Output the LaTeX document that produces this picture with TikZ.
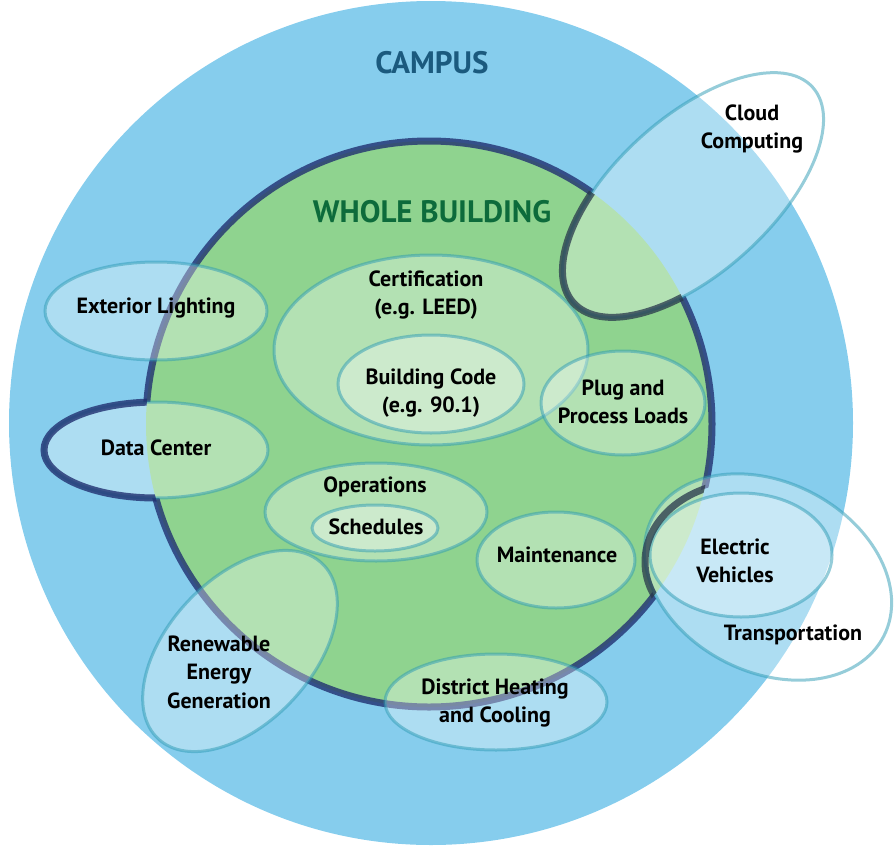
\documentclass[tikz,border=0pt]{standalone}
\usepackage{fontspec}
\setmainfont{PT Sans}
\usetikzlibrary{positioning}

\definecolor{campusblue}{RGB}{134,205,237}
\definecolor{buildgreen}{RGB}{143,211,143}
\definecolor{rimdark}{RGB}{32,48,112}
\definecolor{cutdark}{RGB}{40,55,75}
\definecolor{zoneline}{RGB}{45,155,180}
\definecolor{campustext}{RGB}{27,90,126}
\definecolor{buildtext}{RGB}{13,107,59}

\tikzstyle{zone} = [fill=white, fill opacity=0.33, draw=zoneline, draw opacity=0.5, line width=3]
\tikzstyle{rim} = [draw=rimdark, draw opacity=0.8, line width=7]
\tikzstyle{cutrim} = [draw=cutdark, draw opacity=0.75, line width=7]
\tikzstyle{lbl} = [font=\fontsize{22}{28.5}\selectfont\bfseries, align=center, text=black, inner sep=0]
\tikzstyle{title} = [font=\fontsize{31}{34}\selectfont\bfseries, inner sep=0]

\begin{document}
\begin{tikzpicture}[x=1pt, y=-1pt]
  \useasboundingbox (0,0) rectangle (894,846);

  % campus and building discs
  \fill[campusblue] (431,423) circle[radius=422];
  \fill[buildgreen] (429,424) circle[radius=283];

  % building rim, cut where the outer zones bite in
  \begin{scope}[even odd rule]
    \clip (-50,-50) rectangle (950,900) (693,195) circle[x radius=161, y radius=78, rotate=42];
    \begin{scope}[even odd rule]
      \clip (-50,-50) rectangle (950,900) (156,450) circle[x radius=112, y radius=48];
      \begin{scope}[even odd rule]
        \clip (-50,-50) rectangle (950,900) (745,562) circle[x radius=100, y radius=80];
        \draw[rim] (429,424) circle[radius=283];
      \end{scope}
    \end{scope}
  \end{scope}

  % zones
  \draw[zone] (156,311) circle[x radius=111, y radius=49];
  \draw[zone] (156,450) circle[x radius=112, y radius=48];
  \draw[zone] (431,350) circle[x radius=157, y radius=95];
  \draw[zone] (431,384) circle[x radius=93, y radius=49];
  \draw[zone] (623,403) circle[x radius=82, y radius=52];
  \draw[zone] (376,512) circle[x radius=111, y radius=49];
  \draw[zone] (375,528) circle[x radius=63, y radius=23];
  \draw[zone] (556,560) circle[x radius=79, y radius=48];
  \draw[zone] (240,651) circle[x radius=120, y radius=72, rotate=47];
  \draw[zone] (496,702) circle[x radius=111, y radius=48];
  \draw[zone] (768,577) circle[x radius=130, y radius=95, rotate=-27];
  \draw[zone] (741,555) circle[x radius=91, y radius=62];
  \draw[zone] (693,195) circle[x radius=161, y radius=78, rotate=42];

  % rim along the bites
  \begin{scope}
    \clip (429,424) circle[radius=283];
    \draw[cutrim] (693,195) circle[x radius=161, y radius=78, rotate=42];
    \draw[cutrim] (745,562) circle[x radius=100, y radius=80];
  \end{scope}
  \begin{scope}[even odd rule]
    \clip (-50,-50) rectangle (950,900) (429,424) circle[radius=283];
    \draw[rim] (156,450) circle[x radius=112, y radius=48];
  \end{scope}

  % labels
  \node (campus) [title, text=campustext] at (432,63) {CAMPUS};
  \node (whole) [title, text=buildtext] at (432,212) {WHOLE BUILDING};
  \node (cloud) [lbl] at (752,129) {Cloud\\Computing};
  \node (extlight) [lbl] at (156,308) {Exterior Lighting};
  \node (cert) [lbl] at (426,295) {Certification\\(e.g. LEED)};
  \node (bcode) [lbl] at (431,393) {Building Code\\(e.g. 90.1)};
  \node (plug) [lbl] at (623,402) {Plug and\\Process Loads};
  \node (datactr) [lbl] at (156,448) {Data Center};
  \node (ops) [lbl] at (375,487) {Operations};
  \node (sched) [lbl] at (376,527) {Schedules};
  \node (maint) [lbl] at (557,555) {Maintenance};
  \node (elecveh) [lbl] at (735,561) {Electric\\Vehicles};
  \node (transp) [lbl] at (793,635) {Transportation};
  \node (renew) [lbl] at (219,672) {Renewable\\Energy\\Generation};
  \node (district) [lbl] at (495,703) {District Heating\\and Cooling};
\end{tikzpicture}
\end{document}
